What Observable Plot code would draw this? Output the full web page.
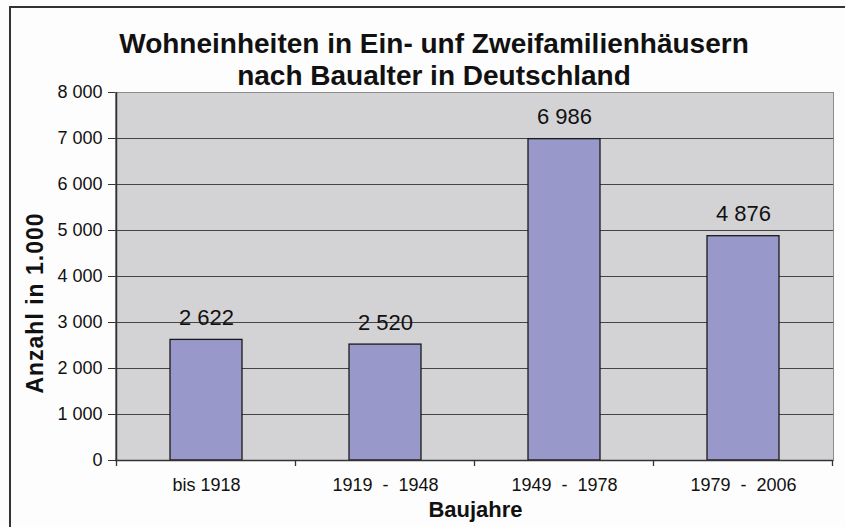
<!DOCTYPE html>
<html>
<head>
<meta charset="utf-8">
<script src="https://cdn.jsdelivr.net/npm/d3@7"></script>
<script src="https://cdn.jsdelivr.net/npm/@observablehq/plot@0.6"></script>
<style>
  html, body { margin: 0; padding: 0; background: #fdfdfd; }
  #wrap { position: relative; width: 845px; height: 527px; overflow: hidden; background: #fdfdfd;
          font-family: "Liberation Sans", Arial, sans-serif; }
  #border { position: absolute; left: 9px; top: 6px; width: 900px; height: 600px; border: 2px solid #333; box-sizing: border-box; }
  #title { position: absolute; left: 0; width: 868px; top: 28px; text-align: center; font-weight: bold;
           font-size: 28px; line-height: 32px; color: #111; }
  #chart { position: absolute; left: 0; top: 0; }
</style>
</head>
<body>
<div id="wrap">
  <div id="border"></div>
  <div id="chart"></div>
  <div id="title">Wohneinheiten in Ein- unf Zweifamilienhäusern<br>nach Baualter in Deutschland</div>
</div>
<script>
const categories = ["bis 1918", "1919  -  1948", "1949  -  1978", "1979  -  2006"];
const values = [2622, 2520, 6986, 4876];
const yTicks = [0, 1000, 2000, 3000, 4000, 5000, 6000, 7000, 8000];
const yLabel = "Anzahl in 1.000";
const xLabel = "Baujahre";

const data = categories.map((c, i) => ({ cat: c, value: values[i] }));
const fmt = d3.formatLocale({ decimal: ",", thousands: " ", grouping: [3], currency: ["", "€"] }).format(",d");

const plot = Plot.plot({
  width: 845,
  height: 527,
  marginLeft: 115,
  marginRight: 12,
  marginTop: 92,
  marginBottom: 67,
  style: { fontFamily: "Liberation Sans, Arial, sans-serif", background: "transparent", overflow: "visible" },
  x: { domain: categories, paddingInner: 0.6, paddingOuter: 0.3, label: null },
  y: { domain: [0, 8000], label: null },
  marks: [
    Plot.frame({ fill: "#d3d3d6", stroke: "#8a8a8a", strokeWidth: 1 }),
    Plot.ruleY(yTicks.filter(d => d > 0 && d < 8000), { y: d => d, stroke: "#444", strokeWidth: 1 }),
    Plot.barY(data, { x: "cat", y: "value", fill: "#9898ca", stroke: "#1a1a1a", strokeWidth: 1.3 }),
    Plot.text(data, { x: "cat", y: "value", text: d => fmt(d.value), lineAnchor: "bottom", dy: -15,
                      fontSize: 22, fill: "#111" }),
    Plot.axisY({ ticks: yTicks, tickFormat: fmt, tickSize: 7, tickPadding: 6, color: "#111", stroke: "#333" }),
    Plot.axisX({ tickSize: 0, tickPadding: 18, color: "#111" }),
    Plot.ruleY([0], { stroke: "#333", strokeWidth: 1.5 })
  ]
});
document.getElementById("chart").appendChild(plot);

const svg = d3.select(plot);
svg.selectAll('[aria-label="y-axis tick label"]').attr("font-size", 18);
svg.selectAll('[aria-label="y-axis tick label"] text').attr("font-size", 18);
svg.selectAll('[aria-label="x-axis tick label"]').attr("font-size", 18);
svg.selectAll('[aria-label="x-axis tick label"] text').attr("font-size", 18);

// axis line and boundary ticks at band edges, positioned through the plot's own scales
const sx = plot.scale("x"), sy = plot.scale("y");
const step = sx.step, bw = sx.bandwidth;
const left = sx.apply(categories[0]) - (step - bw) / 2;
const bounds = d3.range(categories.length + 1).map(i => left + i * step);
const y0 = sy.apply(0), yTop = sy.apply(8000);
const g = svg.append("g").attr("stroke", "#333");
g.append("line").attr("x1", left).attr("x2", left).attr("y1", yTop).attr("y2", y0).attr("stroke-width", 1.5);
bounds.forEach(b => g.append("line").attr("x1", b).attr("x2", b).attr("y1", y0).attr("y2", y0 + 6).attr("stroke-width", 1.3));

// axis titles
svg.append("text").attr("x", (bounds[0] + bounds[bounds.length - 1]) / 2 + 1).attr("y", 517)
  .attr("text-anchor", "middle").attr("font-weight", "bold").attr("font-size", 22).attr("fill", "#111").text(xLabel);
svg.append("text").attr("transform", `translate(43,${(y0 + yTop) / 2 + 27}) rotate(-90)`)
  .attr("text-anchor", "middle").attr("font-weight", "bold").attr("font-size", 23).attr("letter-spacing", 1)
  .attr("fill", "#111").text(yLabel);
</script>
</body>
</html>
